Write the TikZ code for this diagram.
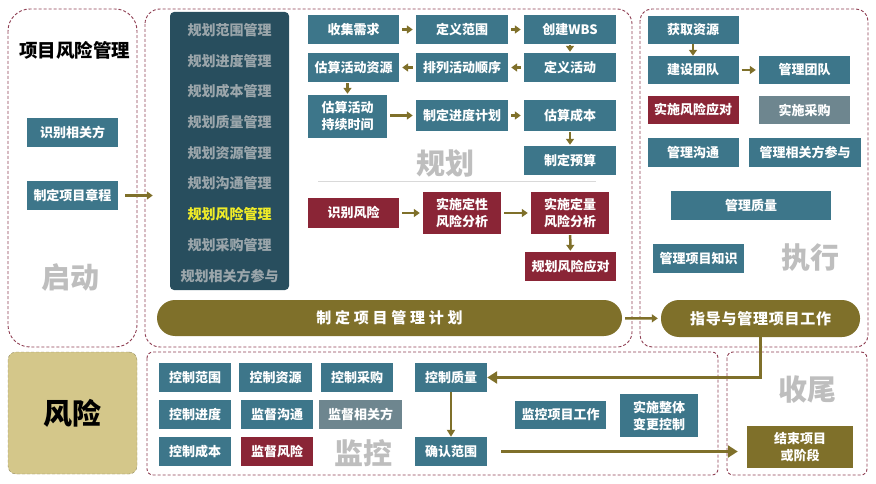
\documentclass[tikz,border=0pt]{standalone}
\usepackage{fontspec}
\setmainfont{Noto Sans CJK SC}
\usetikzlibrary{arrows.meta}
\definecolor{pmteal}{RGB}{61,118,138}
\definecolor{pmred}{RGB}{138,37,54}
\definecolor{pmgray}{RGB}{110,134,143}
\definecolor{pmolive}{RGB}{127,112,42}
\definecolor{pmkhaki}{RGB}{212,199,138}
\definecolor{pmdash}{RGB}{142,62,82}
\definecolor{stagegray}{RGB}{190,190,190}
\definecolor{sidegray}{RGB}{155,166,171}
\definecolor{sideyellow}{RGB}{240,236,40}
\definecolor{sidetop}{RGB}{40,78,94}
\definecolor{sidemid}{RGB}{62,112,131}

\tikzset{
  pmbox/.style={rectangle, fill=pmteal, text=white, align=center, inner sep=0pt,
    font=\bfseries\fontsize{13}{17}\selectfont, minimum width=91pt, minimum height=29pt},
  redbox/.style={pmbox, fill=pmred},
  graybox/.style={pmbox, fill=pmgray},
  bar/.style={rectangle, rounded corners=18pt, fill=pmolive, text=white, inner sep=0pt,
    font=\bfseries\fontsize{15}{15}\selectfont},
  sideitem/.style={font=\bfseries\fontsize{14}{14}\selectfont},
  stage/.style={font=\bfseries\fontsize{29}{29}\selectfont, text=stagegray},
  panel/.style={draw=pmdash, dash pattern=on 3pt off 2pt, line width=0.9pt},
  arr/.style={-{Triangle[width=8pt,length=6pt]}, line width=2.5pt, pmolive,
    shorten <=3pt, shorten >=3pt},
  bigarr/.style={-{Triangle[width=12pt,length=10pt]}, line width=3pt, pmolive},
}

\begin{document}
\begin{tikzpicture}[x=1pt, y=-1pt]
  \useasboundingbox (0,0) rectangle (876,484);

  % stage frames
  \draw[panel, rounded corners=22pt] (8,9) rectangle (137,347);
  \draw[panel, rounded corners=15pt] (145,9) rectangle (632,347);
  \draw[panel, rounded corners=12pt] (640,9) rectangle (868,347);
  \draw[panel, rounded corners=6pt] (147,352) rectangle (718,475);
  \draw[panel, rounded corners=6pt] (727,352) rectangle (867,475);

  % initiating
  \node[font=\bfseries\fontsize{18.5}{18.5}\selectfont] (title) at (75,50) {项目风险管理};
  \node[pmbox] (stake) at (72.5,132.5) {识别相关方};
  \node[pmbox] (charter) at (72.5,195.5) {制定项目章程};
  \node[stage] (init) at (70,278) {启动};

  % planning
  \node[rectangle, rounded corners=4pt, top color=sidetop, middle color=sidemid,
    bottom color=sidetop, minimum width=119pt, minimum height=278pt] (side) at (229.5,151) {};
  \foreach \t/\c [count=\i] in {规划范围管理/sidegray, 规划进度管理/sidegray,
      规划成本管理/sidegray, 规划质量管理/sidegray, 规划资源管理/sidegray,
      规划沟通管理/sidegray, 规划风险管理/sideyellow, 规划采购管理/sidegray,
      规划相关方参与/sidegray}
    \node[sideitem, text=\c] (side\i) at (229.5,{30.7*\i-0.7}) {\t};

  \node[pmbox] (gather) at (353.5,29.5) {收集需求};
  \node[pmbox, minimum width=92pt] (scope) at (462,29.5) {定义范围};
  \node[pmbox, minimum width=92pt] (wbs) at (570,29.5) {创建WBS};
  \node[pmbox, minimum width=92pt] (defact) at (570,67.5) {定义活动};
  \node[pmbox, minimum width=92pt] (seq) at (462,67.5) {排列活动顺序};
  \node[pmbox] (estres) at (353.5,67.5) {估算活动资源};
  \node[pmbox, minimum width=79pt, minimum height=43pt] (estdur) at (347.5,116.5) {估算活动\\持续时间};
  \node[pmbox, minimum width=92pt, minimum height=31pt] (sched) at (462,115.5) {制定进度计划};
  \node[pmbox, minimum width=92pt, minimum height=31pt] (cost) at (570,115.5) {估算成本};
  \node[pmbox, minimum width=92pt] (budget) at (570,160.5) {制定预算};
  \node[stage] (plan) at (445,163) {规划};
  \draw[black!15, line width=1pt] (318,182) -- (596,182);

  \node[redbox, minimum height=30pt] (idrisk) at (353.5,213) {识别风险};
  \node[redbox, minimum width=78pt, minimum height=42pt] (qual) at (462,213) {实施定性\\风险分析};
  \node[redbox, minimum width=78pt, minimum height=42pt] (quant) at (570,213) {实施定量\\风险分析};
  \node[redbox] (resp) at (570.5,266.5) {规划风险应对};

  \draw[arr] (gather) -- (scope);
  \draw[arr] (scope) -- (wbs);
  \draw[arr, shorten <=1pt, shorten >=1pt] (wbs) -- (defact);
  \draw[arr] (defact) -- (seq);
  \draw[arr] (seq) -- (estres);
  \draw[arr, shorten <=1pt, shorten >=1pt] (estres.south -| estdur) -- (estdur);
  \draw[arr] (estdur.east |- sched) -- (sched);
  \draw[arr] (sched) -- (cost);
  \draw[arr, shorten <=1pt, shorten >=1pt] (cost) -- (budget);
  \draw[arr] (idrisk) -- (qual);
  \draw[arr] (qual) -- (quant);
  \draw[arr, shorten <=1pt, shorten >=1pt] (quant) -- (resp);

  \node[bar, minimum width=465pt, minimum height=36pt] (pmplan) at (389.5,318)
    {\addfontfeature{LetterSpace=25}制定项目管理计划};
  \draw[arr, shorten <=7pt, shorten >=17pt] (charter.east) -- (charter.east -| side.west);

  % executing
  \node[pmbox, minimum height=28pt] (acquire) at (693,30) {获取资源};
  \node[pmbox, minimum height=28pt] (develop) at (693,70) {建设团队};
  \node[pmbox, minimum height=28pt] (mteam) at (804.5,70) {管理团队};
  \node[redbox, minimum height=28pt] (implresp) at (693,110) {实施风险应对};
  \node[graybox, minimum height=28pt] (procure) at (804.5,110) {实施采购};
  \node[pmbox] (comm) at (693,152.5) {管理沟通};
  \node[pmbox, minimum width=112pt] (engage) at (805,152.5) {管理相关方参与};
  \node[pmbox, minimum width=160pt] (mquality) at (751,205.5) {管理质量};
  \node[pmbox] (knowledge) at (698.5,258.5) {管理项目知识};
  \node[stage] (exec) at (810,258) {执行};
  \node[bar, minimum width=199pt, minimum height=37pt] (direct) at (760.5,318.5)
    {\addfontfeature{LetterSpace=5}指导与管理项目工作};

  \draw[arr, shorten <=0pt, shorten >=0pt] (acquire) -- (develop);
  \draw[arr] (develop) -- (mteam);
  \draw[arr] (pmplan) -- (direct);

  % risk
  \node[rectangle, rounded corners=8pt, fill=pmkhaki, draw=pmkhaki!70!black,
    dash pattern=on 3pt off 2pt, minimum width=129pt, minimum height=122pt,
    font=\bfseries\fontsize{29}{29}\selectfont] (risk) at (72.5,413) {风险};

  % monitoring and controlling
  \node[pmbox, minimum width=72pt] (cscope) at (195,377.5) {控制范围};
  \node[pmbox, minimum width=73pt] (cres) at (275.5,377.5) {控制资源};
  \node[pmbox, minimum width=72pt] (cproc) at (357,377.5) {控制采购};
  \node[pmbox, minimum width=72pt] (cqual) at (451,377.5) {控制质量};
  \node[pmbox, minimum width=72pt] (csched) at (195,414.5) {控制进度};
  \node[pmbox, minimum width=72pt] (mcomm) at (277,414.5) {监督沟通};
  \node[graybox, minimum width=83pt] (mengage) at (360.5,414.5) {监督相关方};
  \node[pmbox, minimum width=72pt] (ccost) at (195,451.5) {控制成本};
  \node[redbox, minimum width=72pt] (mrisk) at (277,451.5) {监督风险};
  \node[stage] (monitor) at (363,453) {监控};
  \node[pmbox, minimum width=72pt] (vscope) at (451,451.5) {确认范围};
  \node[pmbox, minimum height=28pt] (mwork) at (560.5,415) {监控项目工作};
  \node[pmbox, minimum width=78pt, minimum height=43pt] (icc) at (659,415.5) {实施整体\\变更控制};

  % closing
  \node[stage] (closing) at (807,390) {收尾};
  \node[pmbox, fill=pmolive, minimum width=106pt, minimum height=42pt] (close) at (800,447) {结束项目\\或阶段};

  \draw[bigarr] (direct.south) |- (cqual.east);
  \draw[bigarr, line width=2.5pt, -{Triangle[width=8pt,length=7pt]}] (cqual) -- (vscope);
  \draw[bigarr, line width=3.5pt, shorten <=14pt, shorten >=9pt] (vscope.east) -- (vscope.east -| close.west);
\end{tikzpicture}
\end{document}
